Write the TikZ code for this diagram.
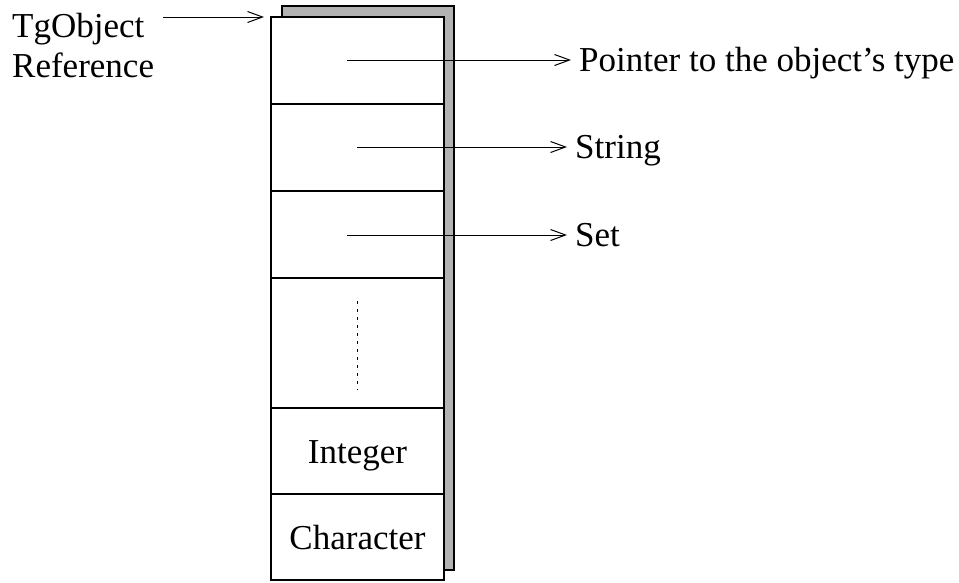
\documentclass[tikz,border=0pt]{standalone}
\usepackage{fontspec}
\setmainfont{Liberation Serif}
\usetikzlibrary{arrows.meta}
\definecolor{shadowgray}{HTML}{B3B3B3}
\begin{document}
\begin{tikzpicture}[x=1pt,y=-1pt,
  cell/.style={draw,line width=2pt,fill=white,minimum width=173pt,inner sep=0pt,outer sep=0pt,anchor=north west},
  lbl/.style={font=\fontsize{35}{40}\selectfont,inner sep=0pt,anchor=base west},
  ptr/.style={line width=1pt,-{Straight Barb[length=15pt,width=11pt,line width=1pt]}}]
\useasboundingbox (0,0) rectangle (959,582);

% drop shadow behind the record
\draw[line width=2pt,fill=shadowgray] (282,6) rectangle (454,570);

% the record's fields
\node[cell,minimum height=87pt]  (c1) at (271,17)  {};
\node[cell,minimum height=87pt]  (c2) at (271,104) {};
\node[cell,minimum height=87pt]  (c3) at (271,191) {};
\node[cell,minimum height=130pt] (c4) at (271,278) {};
\node[cell,minimum height=86pt]  (c5) at (271,408) {};
\node[cell,minimum height=86pt]  (c6) at (271,494) {};

\node[lbl,anchor=base] (int) at ([yshift=-12pt]c5.center) {Integer};
\node[lbl,anchor=base] (chr) at ([yshift=-12pt]c6.center) {Character};

% elided fields
\coordinate (d1) at (357,301);
\coordinate (d2) at (357,390);
\draw[line width=1pt,dash pattern=on 3pt off 5pt] (d1) -- (d2);

% reference to the object
\node[lbl] (tg)  at (12,37.5) {TgObject};
\node[lbl] (ref) at (12,77)   {Reference};
\coordinate (r0) at (163,17);
\coordinate (r1) at (264,17);
\draw[ptr] (r0) -- (r1);

% field pointers
\node[lbl] (t1) at (579,71)  {Pointer to the object's type};
\node[lbl] (t2) at (575,158) {String};
\node[lbl] (t3) at (575,246) {Set};
\coordinate (p1) at (347,60);
\coordinate (p2) at (357,147);
\coordinate (p3) at (347,235);
\draw[ptr] (p1) -- ([xshift=-8pt]p1 -| t1.west);
\draw[ptr] (p2) -- ([xshift=-8pt]p2 -| t2.west);
\draw[ptr] (p3) -- ([xshift=-8pt]p3 -| t3.west);
\end{tikzpicture}
\end{document}
